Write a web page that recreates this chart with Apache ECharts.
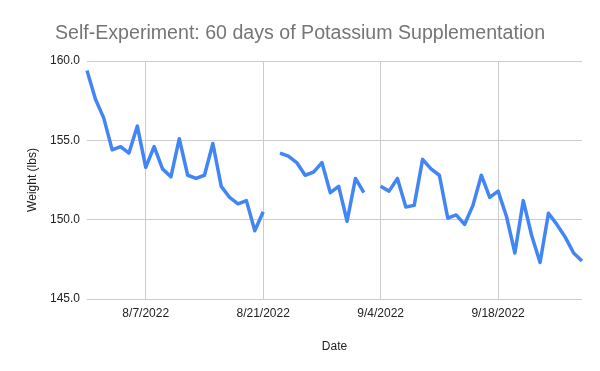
<!DOCTYPE html>
<html>
<head>
<meta charset="utf-8">
<script src="https://cdn.jsdelivr.net/npm/echarts@6/dist/echarts.min.js"></script>
<style>html,body{margin:0;padding:0;background:#fff}#c{width:600px;height:371px}</style>
</head>
<body>
<div id="c"></div>
<script>
var dates = [
  "7/31/2022","8/1/2022","8/2/2022","8/3/2022","8/4/2022","8/5/2022","8/6/2022","8/7/2022","8/8/2022","8/9/2022",
  "8/10/2022","8/11/2022","8/12/2022","8/13/2022","8/14/2022","8/15/2022","8/16/2022","8/17/2022","8/18/2022","8/19/2022",
  "8/20/2022","8/21/2022","8/22/2022","8/23/2022","8/24/2022","8/25/2022","8/26/2022","8/27/2022","8/28/2022","8/29/2022",
  "8/30/2022","8/31/2022","9/1/2022","9/2/2022","9/3/2022","9/4/2022","9/5/2022","9/6/2022","9/7/2022","9/8/2022",
  "9/9/2022","9/10/2022","9/11/2022","9/12/2022","9/13/2022","9/14/2022","9/15/2022","9/16/2022","9/17/2022","9/18/2022",
  "9/19/2022","9/20/2022","9/21/2022","9/22/2022","9/23/2022","9/24/2022","9/25/2022","9/26/2022","9/27/2022","9/28/2022"
];
var weight = [
  159.4, 157.6, 156.4, 154.4, 154.6, 154.2, 155.9, 153.3, 154.6, 153.2,
  152.7, 155.1, 152.8, 152.6, 152.8, 154.8, 152.1, 151.4, 151.0, 151.2,
  149.3, 150.5, null, 154.2, 154.0, 153.6, 152.8, 153.0, 153.6, 151.7,
  152.1, 149.9, 152.6, 151.7, null, 152.1, 151.8, 152.6, 150.8, 150.9,
  153.8, 153.2, 152.8, 150.1, 150.3, 149.7, 150.9, 152.8, 151.4, 151.8,
  150.2, 147.9, 151.2, 149.0, 147.3, 150.4, 149.7, 148.9, 147.9, 147.4
];
var yTicks = { min: 145, max: 160, step: 5 };
var labelIdx = [7, 21, 35, 49];

var chart = echarts.init(document.getElementById('c'), null, { renderer: 'canvas' });
chart.setOption({
  animation: false,
  backgroundColor: '#fff',
  title: {
    text: 'Self-Experiment: 60 days of Potassium Supplementation',
    left: 'center', top: 19,
    textStyle: { fontFamily: 'Liberation Sans, Arial, sans-serif', fontSize: 19.6, fontWeight: 'normal', color: '#757575' }
  },
  grid: { left: 87, right: 18, top: 61, bottom: 72, containLabel: false },
  xAxis: {
    type: 'category', data: dates, boundaryGap: false,
    name: 'Date', nameLocation: 'middle', nameGap: 42,
    nameTextStyle: { fontFamily: 'Liberation Sans, Arial, sans-serif', fontSize: 12, color: '#222' },
    axisLine: { show: false },
    axisTick: { show: false },
    axisLabel: {
      interval: function (i) { return labelIdx.indexOf(i) >= 0; },
      fontFamily: 'Liberation Sans, Arial, sans-serif', fontSize: 12, color: '#222', margin: 9
    },
    splitLine: { show: true, interval: function (i) { return labelIdx.indexOf(i) >= 0; }, lineStyle: { color: '#cccccc', width: 1 } }
  },
  yAxis: {
    type: 'value', min: yTicks.min, max: yTicks.max, interval: yTicks.step,
    name: 'Weight (lbs)', nameLocation: 'middle', nameGap: 47, nameRotate: 90,
    nameTextStyle: { fontFamily: 'Liberation Sans, Arial, sans-serif', fontSize: 12, color: '#222' },
    axisLine: { show: false }, axisTick: { show: false },
    axisLabel: { formatter: function (v) { return v.toFixed(1); }, fontFamily: 'Liberation Sans, Arial, sans-serif', fontSize: 12, color: '#222', margin: 7 },
    splitLine: { show: true, lineStyle: { color: '#cccccc', width: 1 } }
  },
  series: [{
    type: 'line', data: weight, showSymbol: false, connectNulls: false,
    lineStyle: { color: '#4285F4', width: 3.5, join: 'round' },
    itemStyle: { color: '#4285F4' }
  }]
});
</script>
</body>
</html>
